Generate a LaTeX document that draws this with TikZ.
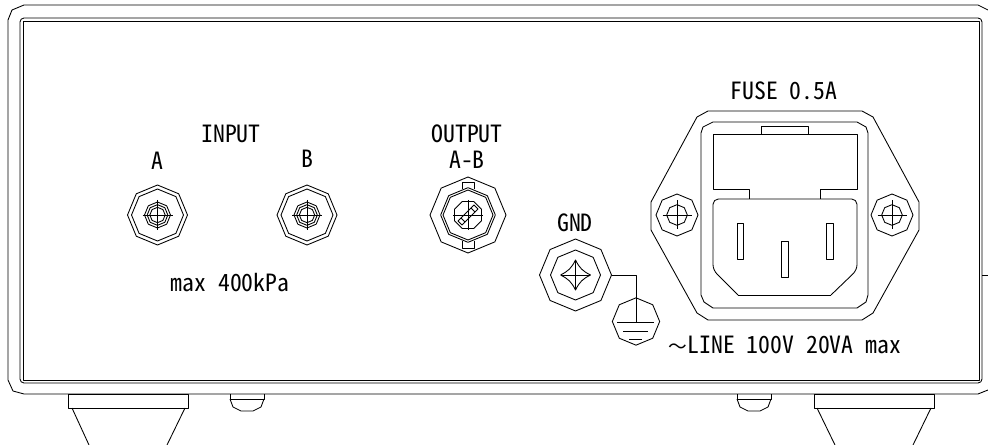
\documentclass[tikz,border=0pt]{standalone}
\usepackage{fontspec}
\setmainfont[RawFeature=+hwid]{Noto Sans CJK JP}
\newfontfamily\widegothic{Noto Sans CJK JP}
\usetikzlibrary{shapes.geometric}
\tikzset{
    panel/.style = {line width = 0.65pt, line join = round},
    octa/.style = {draw, panel, regular polygon, regular polygon sides = 8, shape border rotate = 22.5, inner sep = 0pt, outer sep = 0pt},
    octaflat/.style = {draw, panel, regular polygon, regular polygon sides = 8, inner sep = 0pt, outer sep = 0pt},
    label/.style = {inner sep = 0pt, font = \fontsize{17.8pt}{19pt}\selectfont},
}
\begin{document}
\begin{tikzpicture}[x = 0.75pt, y = -0.75pt]
    \useasboundingbox (0,0) rectangle (988,445);
    % housing
    \draw[panel] (988,10) -- (978,5) -- (24,5) -- (12,10) -- (8,20) -- (8,380) -- (13,391) -- (24,394) -- (978,394) -- (988,390);
    \draw[panel] (23,21) -- (979,21) -- (979,380) -- (23,380) --cycle;
    \draw[panel, rounded corners = 3] (20,18) -- (982,18) -- (982,383) -- (20,383) --cycle;
    \draw[panel] (982,275) -- (988,275);
    % feet
    \draw[panel] (68,394) -- (188,394) -- (188,408) -- (68,408) --cycle;
    \draw[panel] (72,408) -- (89,445);
    \draw[panel] (185,408) -- (167,445);
    \draw[panel] (814,394) -- (934,394) -- (934,408) -- (814,408) --cycle;
    \draw[panel] (817,408) -- (835,445);
    \draw[panel] (931,408) -- (913,445);
    \draw[panel] (230,394) -- (230,399) -- (264,399) -- (264,394);
    \draw[panel] (230,399) -- (233,407) -- (241,411) -- (253,411) -- (261,407) -- (264,399);
    \draw[panel] (737,394) -- (737,399) -- (771,399) -- (771,394);
    \draw[panel] (737,399) -- (740,407) -- (748,411) -- (760,411) -- (768,407) -- (771,399);
    % inputs
    \foreach \name/\xpos in {inputa/157.5, inputb/307} {
        \node[octa, minimum size = 45pt] (\name) at (\xpos,215) {};
        \node[octa, minimum size = 39pt] at (\xpos,215) {};
        \node[octa, minimum size = 19.5pt] at (\xpos,215) {};
        \node[octa, minimum size = 15.5pt] at (\xpos,215) {};
        \node[octa, minimum size = 11.5pt] at (\xpos,215) {};
        \draw[panel] (\xpos-15,215) -- (\xpos+15,215);
        \draw[panel] (\xpos,200) -- (\xpos,230);
    }
    % output
    \node[octa, minimum size = 57pt] (outputouter) at (468,215) {};
    \node[octa, minimum size = 41pt] (outputmid) at (468,215) {};
    \node[octa, minimum size = 37.5pt] (outputin) at (468,215) {};
    \node[octaflat, minimum size = 22pt] (outputcore) at (468,215) {};
    \draw[panel] (462,189) -- (462,182) -- (474,182) -- (474,189);
    \draw[panel] (462,241) -- (462,248) -- (474,248) -- (474,241);
    \draw[panel] (453,215) -- (483,215);
    \draw[panel] (468,200) -- (468,230);
    \draw[panel] (458,221) -- (474,205) -- (478,209) -- (462,225) --cycle;
    \draw[panel] (461,218) -- (465,222);
    \draw[panel] (471,208) -- (475,212);
    % gnd
    \node[octa, minimum size = 54pt] (gndouter) at (575.5,275) {};
    \node[octa, minimum size = 37.5pt] (gndinner) at (575.5,275) {};
    \draw[panel] (560.5,275) .. controls (568.5,271) and (571.5,268) .. (575.5,260) .. controls (579.5,268) and (582.5,271) .. (590.5,275) .. controls (582.5,279) and (579.5,282) .. (575.5,290) .. controls (571.5,282) and (568.5,279) .. (560.5,275);
    \draw[panel] (561,275) -- (590,275);
    \draw[panel] (575.5,261) -- (575.5,289);
    \node[octa, minimum size = 35.5pt] (gndmark) at (636,321.5) {};
    \draw[panel] (gndouter.east) -| (gndmark.center);
    \draw[panel] (617,322) -- (654,322);
    \draw[panel] (623,331) -- (648,331);
    \draw[panel] (629,339) -- (642,339);
    % power inlet
    \draw[panel] (708,111) -- (862,111) -- (873,117) -- (919,202) -- (919,230) -- (873,313) -- (862,320) -- (708,320) -- (697,313) -- (651,230) -- (651,202) -- (697,117) --cycle;
    \draw[panel] (713,122) -- (857,122) -- (866,127) -- (868,133) -- (868,295) -- (866,302) -- (857,308) -- (713,308) -- (704,302) -- (701,295) -- (701,133) -- (703,127) --cycle;
    \draw[panel] (749,199) -- (749,189) -- (713,189) -- (713,134) -- (857,134) -- (857,189) -- (820,189) -- (820,199);
    \draw[panel] (761,134) -- (761,126) -- (808,126) -- (808,134);
    \draw[panel, rounded corners = 4] (738,295) -- (713,270) -- (713,199) -- (857,199) -- (857,270) -- (831,295);
    \draw[panel] (738,295) -- (831,295);
    \draw[panel] (737,223) rectangle (743,259);
    \draw[panel] (826,223) rectangle (833,259);
    \draw[panel] (781,241) rectangle (788,277);
    \foreach \name/\xpos in {screwl/677, screwr/892} {
        \node[octa, minimum size = 31.5pt] (\name) at (\xpos,215) {};
        \node[octa, minimum size = 15.5pt] at (\xpos,215) {};
        \draw[panel] (\xpos-14.5,215) -- (\xpos+14.5,215);
        \draw[panel] (\xpos,200.5) -- (\xpos,229.5);
    }
    % labels
    \node[label] (inputlabel) at (231,134) {INPUT};
    \node[label] (alabel) at (157,161) {A};
    \node[label] (blabel) at (307,159) {B};
    \node[label] (maxlabel) at (230,283) {max 400kPa};
    \node[label] (outputlabel) at (467,134) {OUTPUT};
    \node[label] (ablabel) at (467,160) {A-B};
    \node[label] (gndlabel) at (575,223) {GND};
    \node[label] (fuselabel) at (784,91) {FUSE 0.5A};
    \node[label] (linelabel) at (785,345) {{\widegothic\fontsize{14pt}{19pt}\selectfont ～}LINE 100V 20VA max};
\end{tikzpicture}
\end{document}
